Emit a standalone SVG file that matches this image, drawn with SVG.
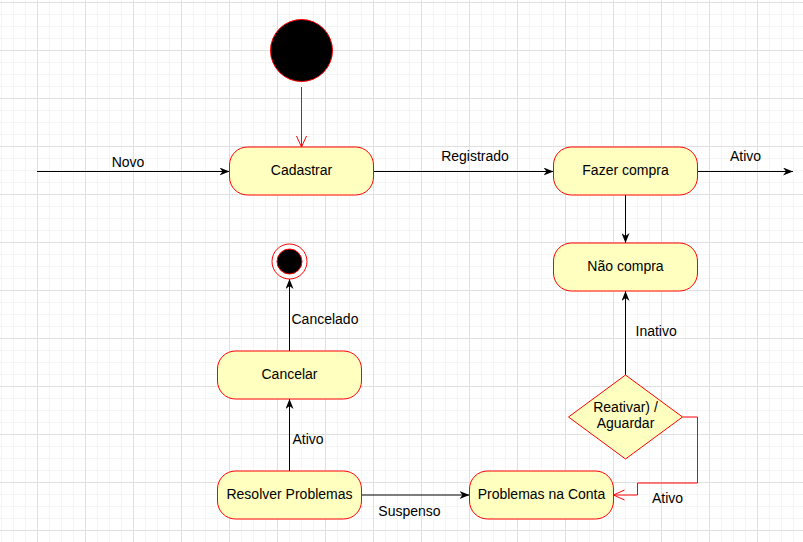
<svg xmlns="http://www.w3.org/2000/svg" width="803" height="542" viewBox="0 0 803 542">
  <style>
    .state { fill: #ffffc0; stroke: #ff0000; stroke-width: 1; }
    .txt { font-family: "Liberation Sans", Arial, sans-serif; font-size: 14px; fill: #000000; }
    .mid { text-anchor: middle; }
    .conn { fill: none; stroke: #000000; stroke-width: 1; marker-end: url(#block); }
    .red { fill: none; stroke: #ff0000; stroke-width: 1; marker-end: url(#open); }
  </style>
  <defs>
    <pattern id="minor" patternUnits="userSpaceOnUse" x="1" y="2" width="12" height="12">
      <path d="M0.5 0 V12 M0 0.5 H12" stroke="#f5f5f5" stroke-width="1" fill="none"/>
    </pattern>
    <pattern id="major" patternUnits="userSpaceOnUse" x="37" y="2" width="48" height="48">
      <path d="M0.5 0 V48 M0 0.5 H48" stroke="#e0e0e0" stroke-width="1" fill="none"/>
    </pattern>
    <marker id="block" markerUnits="userSpaceOnUse" viewBox="0 0 10 8" refX="10" refY="4" markerWidth="10" markerHeight="8" orient="auto">
      <path d="M0,0 L10,4 L0,8 L3,4 Z" fill="#000000"/>
    </marker>
    <marker id="open" markerUnits="userSpaceOnUse" viewBox="-1 -1 13 12" refX="11" refY="5" markerWidth="13" markerHeight="12" orient="auto">
      <path d="M0,0 L11,5 L0,10" fill="none" stroke="#ff0000" stroke-width="1"/>
    </marker>
  </defs>

  <rect x="0" y="0" width="803" height="542" fill="#ffffff"/>
  <rect x="0" y="0" width="803" height="542" fill="url(#minor)"/>
  <rect x="0" y="0" width="803" height="542" fill="url(#major)"/>

  <g id="connectors">
    <path class="red" d="M301.5 87 V147"/>
    <path class="conn" d="M37 171.5 H229.5"/>
    <path class="conn" d="M373.5 171.5 H553.5"/>
    <path class="conn" d="M697.5 171.5 H793"/>
    <path class="conn" d="M625.5 195 V243"/>
    <path class="conn" d="M625.5 375 V291"/>
    <path class="red" d="M682.5 417 H697.5 V483 H637.5 V495 H613.5"/>
    <path class="conn" d="M289.5 351 V279"/>
    <path class="conn" d="M289.5 471 V399"/>
    <path class="conn" d="M361.5 495 H469.5"/>
    <text class="txt mid" x="128" y="167">Novo</text>
    <text class="txt mid" x="475" y="161">Registrado</text>
    <text class="txt mid" x="745.5" y="161">Ativo</text>
    <text class="txt" x="291.5" y="323.5">Cancelado</text>
    <text class="txt" x="292.5" y="443.5">Ativo</text>
    <text class="txt mid" x="409.5" y="515.5">Suspenso</text>
    <text class="txt" x="635.5" y="335.5">Inativo</text>
    <text class="txt" x="652" y="503">Ativo</text>
  </g>

  <g id="initial">
    <circle cx="301.5" cy="50.5" r="31" fill="#000000" stroke="#ff0000" stroke-width="1"/>
  </g>

  <g id="final">
    <circle cx="289.5" cy="261.5" r="17.5" fill="#ffffff" stroke="#ff0000" stroke-width="1"/>
    <circle cx="289.5" cy="261.5" r="12.5" fill="#000000" stroke="#ff0000" stroke-width="1"/>
  </g>

  <g id="cadastrar">
    <rect class="state" x="229.5" y="147" width="144" height="48" rx="18" ry="18"/>
    <text class="txt mid" x="301.5" y="174.5">Cadastrar</text>
  </g>

  <g id="fazer-compra">
    <rect class="state" x="553.5" y="147" width="144" height="48" rx="18" ry="18"/>
    <text class="txt mid" x="625.5" y="174.5">Fazer compra</text>
  </g>

  <g id="nao-compra">
    <rect class="state" x="553.5" y="243" width="144" height="48" rx="18" ry="18"/>
    <text class="txt mid" x="625.5" y="270.5">Não compra</text>
  </g>

  <g id="cancelar">
    <rect class="state" x="217.5" y="351" width="144" height="48" rx="18" ry="18"/>
    <text class="txt mid" x="289.5" y="378.5">Cancelar</text>
  </g>

  <g id="resolver-problemas">
    <rect class="state" x="217.5" y="471" width="144" height="48" rx="18" ry="18"/>
    <text class="txt mid" x="289.5" y="498.5">Resolver Problemas</text>
  </g>

  <g id="problemas-na-conta">
    <rect class="state" x="469.5" y="471" width="144" height="48" rx="18" ry="18"/>
    <text class="txt mid" x="541.5" y="498.5">Problemas na Conta</text>
  </g>

  <g id="decisao">
    <polygon class="state" points="625.5,375 682.5,417 625.5,459 568.5,417"/>
    <text class="txt mid" x="625.5" y="411.5">Reativar) /</text>
    <text class="txt mid" x="625.5" y="427.5">Aguardar</text>
  </g>
</svg>
